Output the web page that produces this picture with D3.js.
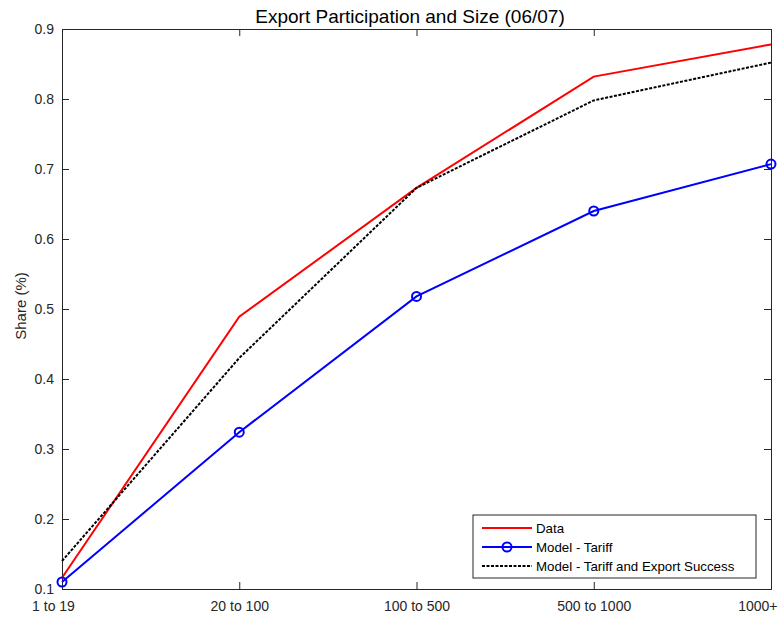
<!DOCTYPE html>
<html><head><meta charset="utf-8">
<script src="https://cdn.jsdelivr.net/npm/d3@7"></script>
<style>body{margin:0;background:#fff;} svg{display:block;font-family:"Liberation Sans",Arial,sans-serif;}</style>
</head><body>
<svg id="c" width="782" height="619"></svg>
<script>
const categories = ["1 to 19","20 to 100","100 to 500","500 to 1000","1000+"];
const dataSeries = [0.116, 0.489, 0.673, 0.832, 0.878];
const modelTariff = [0.110, 0.324, 0.518, 0.640, 0.707];
const modelTariffExport = [0.140, 0.430, 0.673, 0.798, 0.852];
const yTicks = [0.1,0.2,0.3,0.4,0.5,0.6,0.7,0.8,0.9];

const svg = d3.select("#c");
const L=62, R=771, T=29, B=589;
const x = d3.scalePoint().domain(categories).range([L,R]);
const y = d3.scaleLinear().domain([0.1,0.9]).range([B,T]);
const ax = "#262626";

const g = svg.append("g");
const xAxis = d3.axisBottom(x).tickSize(-7).tickPadding(12);
const gx = g.append("g").attr("transform",`translate(0,${B})`).call(xAxis);
const xTop = d3.axisTop(x).tickSize(-7).tickFormat("");
const gxt = g.append("g").attr("transform",`translate(0,${T})`).call(xTop);
const yAxis = d3.axisLeft(y).tickValues(yTicks).tickSize(-7).tickPadding(8).tickFormat(d3.format(".1f"));
const gy = g.append("g").attr("transform",`translate(${L},0)`).call(yAxis);
const yRight = d3.axisRight(y).tickValues(yTicks).tickSize(-7).tickFormat("");
const gyr = g.append("g").attr("transform",`translate(${R},0)`).call(yRight);
[gx,gxt,gy,gyr].forEach(a=>{
  a.select(".domain").attr("stroke",ax).attr("stroke-width",1);
  a.selectAll(".tick line").attr("stroke",ax);
  a.selectAll(".tick text").attr("fill",ax).style("font-size","14px").style("font-family","'Liberation Sans',Arial,sans-serif");
});
gx.selectAll(".tick text").attr("dy","0.71em");
// keep end category labels inside the window, as in the reference
gx.selectAll(".tick text").filter(d=>d===categories[categories.length-1])
  .attr("text-anchor","end").attr("x",777-R);
gx.selectAll(".tick text").filter(d=>d===categories[0]).attr("x",-9);

const line = d3.line().x((d,i)=>x(categories[i])).y(d=>y(d));
g.append("path").datum(dataSeries).attr("d",line).attr("fill","none").attr("stroke","#ff0000").attr("stroke-width",2);
g.append("path").datum(modelTariff).attr("d",line).attr("fill","none").attr("stroke","#0000ff").attr("stroke-width",2);
g.selectAll(".mk").data(modelTariff).enter().append("circle")
  .attr("cx",(d,i)=>x(categories[i])).attr("cy",d=>y(d)).attr("r",4.5)
  .attr("fill","none").attr("stroke","#0000ff").attr("stroke-width",2);
g.append("path").datum(modelTariffExport).attr("d",line).attr("fill","none").attr("stroke","#000").attr("stroke-width",2).attr("stroke-dasharray","3,1.5");

svg.append("text").attr("x",410).attr("y",23).attr("text-anchor","middle")
  .style("font-size","19px").attr("fill","#000").text("Export Participation and Size (06/07)");
svg.append("text").attr("transform",`translate(26,306) rotate(-90)`).attr("text-anchor","middle")
  .style("font-size","15px").attr("fill",ax).text("Share (%)");

const lg = svg.append("g").attr("transform","translate(473,515)");
lg.append("rect").attr("x",0).attr("y",0).attr("width",283).attr("height",63).attr("fill","#fff").attr("stroke",ax).attr("stroke-width",1);
const items=[{t:"Data",c:"#ff0000",d:null,m:false},{t:"Model - Tariff",c:"#0000ff",d:null,m:true},{t:"Model - Tariff and Export Success",c:"#000",d:"3,1.5",m:false}];
items.forEach((it,i)=>{
  const yy = 13+i*19;
  lg.append("line").attr("x1",9).attr("x2",59).attr("y1",yy).attr("y2",yy).attr("stroke",it.c).attr("stroke-width",2).attr("stroke-dasharray",it.d);
  if(it.m) lg.append("circle").attr("cx",34).attr("cy",yy).attr("r",4.5).attr("fill","none").attr("stroke",it.c).attr("stroke-width",2);
  lg.append("text").attr("x",63).attr("y",yy+4.5).style("font-size","13.3px").attr("fill","#000").text(it.t);
});
</script>
</body></html>
